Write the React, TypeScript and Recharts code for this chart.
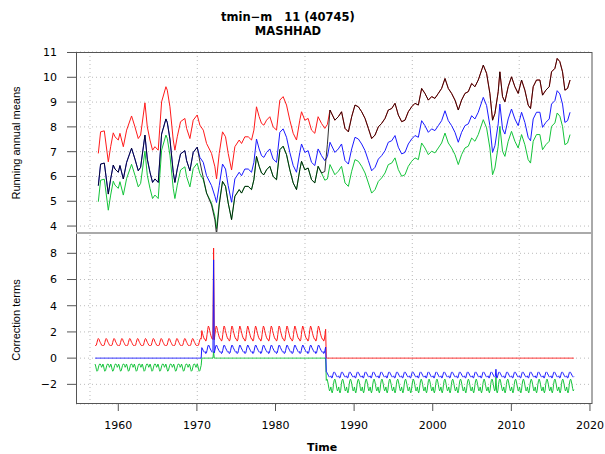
import React from 'react';
import { LineChart, Line, XAxis, YAxis, CartesianGrid, ReferenceLine } from 'recharts';

// ---------- Running annual means (upper panel) ----------
const meanYears = [
  1957.46, 1957.75, 1958.22, 1958.73, 1959.03, 1959.36, 1959.58, 1960.0, 1960.21, 1960.64,
  1961.06, 1961.69, 1962.12, 1962.54, 1962.84, 1963.39, 1963.69, 1964.03, 1964.36, 1964.66,
  1965.08, 1965.51, 1966.06, 1966.23, 1966.57, 1966.99, 1967.2, 1967.5, 1967.92, 1968.47,
  1968.69, 1969.11, 1969.53, 1970.04, 1970.38, 1970.81,
  1971.23, 1971.86, 1972.29, 1972.5,
  1972.84, 1973.26, 1973.64, 1973.98, 1974.41, 1974.83, 1975.38, 1975.68, 1976.1, 1976.53,
  1976.95, 1977.25, 1977.58, 1977.92, 1978.22, 1978.52, 1978.86, 1979.28, 1979.7, 1980.13,
  1980.55, 1980.97, 1981.4, 1981.82, 1982.25, 1982.67, 1983.09, 1983.31, 1983.73, 1984.15,
  1984.58, 1985.0, 1985.42, 1985.85, 1986.27, 1986.6,
  1986.93, 1987.55, 1987.99, 1988.4,
  1988.84, 1989.27, 1989.69, 1990.11, 1990.54, 1990.96, 1991.39, 1991.81, 1992.23, 1992.66,
  1993.08, 1993.5, 1993.93, 1994.35, 1994.78, 1995.2, 1995.62, 1996.05, 1996.47, 1996.89,
  1997.32, 1997.74, 1998.17, 1998.59, 1999.01, 1999.44, 1999.86, 2000.28, 2000.71, 2001.13,
  2001.56, 2001.98, 2002.4, 2002.83, 2003.25, 2003.67, 2004.1, 2004.52, 2004.95, 2005.37,
  2005.79, 2006.43, 2006.85, 2007.27, 2007.61, 2007.91, 2008.33, 2008.54, 2008.88, 2009.18,
  2009.6, 2010.02, 2010.45, 2010.87, 2011.3, 2011.72, 2012.14, 2012.44, 2012.78, 2013.2,
  2013.63, 2013.97, 2014.39, 2014.82, 2015.11, 2015.54, 2015.83, 2016.17, 2016.51, 2016.81,
  2017.15, 2017.47,
];

const redMeans = [
  6.93, 7.8, 7.84, 6.59, 7.2, 7.76, 7.6, 7.47, 7.74, 7.2,
  7.87, 8.44, 8.0, 7.53, 7.67, 8.97, 8.0, 7.47, 7.06, 7.2,
  7.06, 9.01, 9.62, 9.48, 8.81, 7.47, 7.06, 7.6, 8.21, 8.34,
  7.94, 7.53, 8.27, 8.48, 8.07, 7.87,
  7.33, 6.93, 6.39, 5.9,
  6.93, 7.8, 7.6, 6.93, 6.26, 7.2, 7.47, 7.33, 7.6, 7.6,
  7.47, 7.87, 8.81, 8.41, 8.14, 8.07, 8.27, 8.41, 8.0, 7.87,
  9.08, 9.22, 8.88, 8.27, 7.74, 7.47, 8.27, 8.61, 8.27, 8.34,
  7.87, 7.74, 8.41, 8.14, 7.94, 8.1,
  8.68, 8.27, 8.41, 8.61,
  7.94, 7.8, 8.41, 8.88, 8.81, 8.61, 8.34, 7.94, 7.53, 7.67,
  8.0, 8.14, 8.34, 8.68, 8.74, 8.95, 8.48, 8.21, 8.27, 8.61,
  8.81, 8.95, 8.88, 9.55, 9.35, 9.08, 9.22, 9.15, 9.35, 9.55,
  9.95, 9.55, 9.35, 9.08, 8.68, 9.08, 9.35, 9.42, 9.75, 9.62,
  9.89, 10.49, 10.16, 9.35, 8.27, 8.54, 9.42, 10.22, 9.22, 9.01,
  9.62, 10.02, 9.62, 9.35, 9.89, 9.48, 8.88, 8.74, 9.62, 9.89,
  9.89, 9.28, 9.48, 9.62, 10.22, 10.36, 10.76, 10.63, 10.22, 9.48,
  9.55, 9.89,
];

const blueMeans = [
  5.63, 6.5, 6.54, 5.29, 5.9, 6.46, 6.3, 6.17, 6.44, 5.9,
  6.57, 7.14, 6.7, 6.23, 6.37, 7.67, 6.7, 6.17, 5.76, 5.9,
  5.76, 7.71, 8.32, 8.18, 7.51, 6.17, 5.76, 6.3, 6.91, 7.04,
  6.64, 6.23, 6.97, 7.18, 6.77, 6.57,
  6.03, 5.63, 5.2, 4.95,
  5.63, 6.5, 6.3, 5.63, 4.96, 5.9, 6.17, 6.03, 6.3, 6.3,
  6.17, 6.57, 7.51, 7.11, 6.84, 6.77, 6.97, 7.11, 6.7, 6.57,
  7.78, 7.92, 7.58, 6.97, 6.44, 6.17, 6.97, 7.31, 6.97, 7.04,
  6.57, 6.44, 7.11, 6.84, 6.64, 6.8,
  7.38, 6.97, 7.11, 7.31,
  6.64, 6.5, 7.11, 7.58, 7.51, 7.31, 7.04, 6.64, 6.23, 6.37,
  6.7, 6.84, 7.04, 7.38, 7.44, 7.65, 7.18, 6.91, 6.97, 7.31,
  7.51, 7.65, 7.58, 8.25, 8.05, 7.78, 7.92, 7.85, 8.05, 8.25,
  8.65, 8.25, 8.05, 7.78, 7.38, 7.78, 8.05, 8.12, 8.45, 8.32,
  8.59, 9.19, 8.86, 8.05, 6.97, 7.24, 8.12, 8.92, 7.92, 7.71,
  8.32, 8.72, 8.32, 8.05, 8.59, 8.18, 7.58, 7.44, 8.32, 8.59,
  8.59, 7.98, 8.18, 8.32, 8.92, 9.06, 9.46, 9.33, 8.92, 8.18,
  8.25, 8.59,
];

const greenMeans = [
  4.98, 5.85, 5.89, 4.64, 5.25, 5.81, 5.65, 5.52, 5.79, 5.25,
  5.92, 6.49, 6.05, 5.58, 5.72, 7.02, 6.05, 5.52, 5.11, 5.25,
  5.11, 7.06, 7.67, 7.53, 6.86, 5.52, 5.11, 5.65, 6.26, 6.39,
  5.99, 5.58, 6.32, 6.53, 6.12, 5.87,
  5.33, 4.93, 4.39, 3.9,
  4.93, 5.8, 5.6, 4.93, 4.26, 5.2, 5.47, 5.33, 5.6, 5.6,
  5.47, 5.87, 6.81, 6.41, 6.14, 6.07, 6.27, 6.41, 6.0, 5.87,
  7.08, 7.22, 6.88, 6.27, 5.74, 5.47, 6.27, 6.61, 6.27, 6.34,
  5.87, 5.74, 6.41, 6.14, 5.85, 5.9,
  6.48, 6.07, 6.21, 6.41,
  5.74, 5.6, 6.21, 6.68, 6.61, 6.41, 6.14, 5.74, 5.33, 5.47,
  5.8, 5.94, 6.14, 6.48, 6.54, 6.75, 6.28, 6.01, 6.07, 6.41,
  6.61, 6.75, 6.68, 7.35, 7.15, 6.88, 7.02, 6.95, 7.15, 7.35,
  7.75, 7.35, 7.15, 6.88, 6.48, 6.88, 7.15, 7.22, 7.55, 7.42,
  7.69, 8.29, 7.96, 7.15, 6.07, 6.34, 7.22, 8.02, 7.02, 6.81,
  7.42, 7.82, 7.42, 7.15, 7.69, 7.28, 6.68, 6.54, 7.42, 7.69,
  7.69, 7.08, 7.28, 7.42, 8.02, 8.16, 8.56, 8.43, 8.02, 7.28,
  7.35, 7.69,
];

const rawMeans = [
  5.63, 6.5, 6.54, 5.29, 5.9, 6.46, 6.3, 6.17, 6.44, 5.9,
  6.57, 7.14, 6.7, 6.23, 6.37, 7.67, 6.7, 6.17, 5.76, 5.9,
  5.76, 7.71, 8.32, 8.18, 7.51, 6.17, 5.76, 6.3, 6.91, 7.04,
  6.64, 6.23, 6.97, 7.18, 6.6, 5.95,
  5.33, 4.85, 4.25, 3.65,
  4.85, 5.8, 5.6, 4.93, 4.26, 5.2, 5.47, 5.33, 5.6, 5.6,
  5.47, 5.87, 6.81, 6.41, 6.14, 6.07, 6.27, 6.41, 6.0, 5.87,
  7.08, 7.22, 6.88, 6.27, 5.74, 5.47, 6.27, 6.61, 6.27, 6.34,
  5.87, 5.74, 6.41, 6.14, 6.2, 7.3,
  8.68, 8.27, 8.41, 8.61,
  7.94, 7.8, 8.41, 8.88, 8.81, 8.61, 8.34, 7.94, 7.53, 7.67,
  8.0, 8.14, 8.34, 8.68, 8.74, 8.95, 8.48, 8.21, 8.27, 8.61,
  8.81, 8.95, 8.88, 9.55, 9.35, 9.08, 9.22, 9.15, 9.35, 9.55,
  9.95, 9.55, 9.35, 9.08, 8.68, 9.08, 9.35, 9.42, 9.75, 9.62,
  9.89, 10.49, 10.16, 9.35, 8.27, 8.54, 9.42, 10.22, 9.22, 9.01,
  9.62, 10.02, 9.62, 9.35, 9.89, 9.48, 8.88, 8.74, 9.62, 9.89,
  9.89, 9.28, 9.48, 9.62, 10.22, 10.36, 10.76, 10.63, 10.22, 9.48,
  9.55, 9.89,
];

// ---------- Correction terms (lower panel): monthly profiles per homogeneous segment ----------
const corrFirstYear = 1957;
const corrLastYear = 2017;
const segmentBreaks = [1970.6, 1986.42];
const redCorrProfiles = [
  [1.0, 0.95, 1.0, 1.2, 1.4, 1.5, 1.45, 1.3, 1.2, 1.1, 1.0, 0.95],
  [1.45, 1.3, 1.4, 1.8, 2.2, 2.45, 2.35, 2.1, 1.9, 1.7, 1.55, 1.45],
  [0, 0, 0, 0, 0, 0, 0, 0, 0, 0, 0, 0],
];
const blueCorrProfiles = [
  [0, 0, 0, 0, 0, 0, 0, 0, 0, 0, 0, 0],
  [0.5, 0.35, 0.4, 0.6, 0.85, 1.0, 0.95, 0.8, 0.7, 0.6, 0.5, 0.45],
  [-1.35, -1.5, -1.5, -1.3, -1.1, -1.05, -1.1, -1.2, -1.3, -1.4, -1.45, -1.4],
];
const greenCorrProfiles = [
  [-0.45, -0.6, -0.85, -1.0, -0.95, -0.75, -0.55, -0.45, -0.45, -0.55, -0.7, -0.6],
  [0, 0, 0, 0, 0, 0, 0, 0, 0, 0, 0, 0],
  [-2.2, -2.5, -2.65, -2.45, -2.0, -1.7, -1.6, -1.75, -2.0, -2.3, -2.5, -2.4],
];
const outlierYears = [1972, 2008];
const outlierMonths = [1, 0];
const outlierRed = [8.4, 0];
const outlierBlue = [7.5, -0.85];
const outlierGreen = [0.5, -1.45];

// ---------- Axes ----------
const xDomain = [1954.62, 2020.26];
const xTicks = [1960, 1970, 1980, 1990, 2000, 2010, 2020];
const gridYears = [1956.4, 1970.05, 1983.75, 1997.4, 2011.0];
const meanDomain = [3.72, 11.02];
const meanTicks = [4, 5, 6, 7, 8, 9, 10, 11];
const corrDomain = [-3.5, 9.55];
const corrTicks = [-2, 0, 2, 4, 6, 8];

const RED = '#ff1a1a';
const BLUE = '#1a1aff';
const GREEN = '#14c43a';
const FONT = "'DejaVu Sans', sans-serif";

const fmt = (v: number) => (v < 0 ? `\u2212${Math.abs(v)}` : `${v}`);

function buildCorrData() {
  const rows: { t: number; red: number; blue: number; green: number }[] = [];
  for (let y = corrFirstYear; y <= corrLastYear; y++) {
    for (let m = 0; m < 12; m++) {
      const t = y + (m + 0.5) / 12;
      const seg = t < segmentBreaks[0] ? 0 : t < segmentBreaks[1] ? 1 : 2;
      let red = redCorrProfiles[seg][m];
      let blue = blueCorrProfiles[seg][m];
      let green = greenCorrProfiles[seg][m];
      for (let k = 0; k < outlierYears.length; k++) {
        if (outlierYears[k] === y && outlierMonths[k] === m) {
          red = outlierRed[k] || red;
          blue = outlierBlue[k];
          green = outlierGreen[k];
        }
      }
      rows.push({ t, red, blue, green });
    }
  }
  return rows;
}

export default function App() {
  const meansData = meanYears.map((t, i) => ({
    t,
    red: redMeans[i],
    blue: blueMeans[i],
    green: greenMeans[i],
    raw: rawMeans[i],
  }));
  const corrData = buildCorrData();
  const tickStyle = { fill: '#000', fontSize: 11, fontFamily: FONT };

  return (
    <div style={{ position: 'absolute', left: 0, top: 0, width: 605, height: 454, background: '#fff', overflow: 'hidden' }}>
      <div style={{ position: 'absolute', left: 0, top: 0 }}>
        <LineChart width={605} height={233} data={meansData} margin={{ top: 52, right: 13, bottom: 0, left: 0 }}>
          <XAxis type="number" dataKey="t" domain={xDomain} hide allowDataOverflow />
          <YAxis
            type="number"
            domain={meanDomain}
            ticks={meanTicks}
            interval={0}
            width={76}
            tickSize={9}
            tickMargin={10}
            axisLine={false}
            tickLine={{ stroke: '#555' }}
            tick={tickStyle}
            allowDataOverflow
          />
          <CartesianGrid vertical={false} stroke="#bbb" strokeDasharray="1 3" />
          {gridYears.map((g) => (
            <ReferenceLine key={g} x={g} stroke="#bbb" strokeDasharray="1 3" />
          ))}
          <Line type="linear" dataKey="red" stroke={RED} strokeWidth={1} dot={false} isAnimationActive={false} />
          <Line type="linear" dataKey="blue" stroke={BLUE} strokeWidth={1} dot={false} isAnimationActive={false} />
          <Line type="linear" dataKey="green" stroke={GREEN} strokeWidth={1} dot={false} isAnimationActive={false} />
          <Line type="linear" dataKey="raw" stroke="#000" strokeOpacity={0.8} strokeWidth={1} dot={false} isAnimationActive={false} />
        </LineChart>
      </div>
      <div style={{ position: 'absolute', left: 0, top: 233 }}>
        <LineChart width={605} height={221} data={corrData} margin={{ top: 0, right: 13, bottom: 20, left: 0 }}>
          <XAxis
            type="number"
            dataKey="t"
            domain={xDomain}
            ticks={xTicks}
            interval={0}
            height={30}
            tickSize={7}
            tickMargin={10}
            axisLine={false}
            tickLine={{ stroke: '#555' }}
            tick={tickStyle}
            allowDataOverflow
          />
          <YAxis
            type="number"
            domain={corrDomain}
            ticks={corrTicks}
            interval={0}
            width={76}
            tickSize={9}
            tickMargin={10}
            axisLine={false}
            tickLine={{ stroke: '#555' }}
            tick={tickStyle}
            tickFormatter={fmt}
            allowDataOverflow
          />
          <CartesianGrid vertical={false} stroke="#bbb" strokeDasharray="1 3" />
          {gridYears.map((g) => (
            <ReferenceLine key={g} x={g} stroke="#bbb" strokeDasharray="1 3" />
          ))}
          <Line type="linear" dataKey="red" stroke={RED} strokeWidth={1} dot={false} isAnimationActive={false} />
          <Line type="linear" dataKey="green" stroke={GREEN} strokeWidth={1} dot={false} isAnimationActive={false} />
          <Line type="linear" dataKey="blue" stroke={BLUE} strokeWidth={1} dot={false} isAnimationActive={false} />
        </LineChart>
      </div>
      <svg width={605} height={454} style={{ position: 'absolute', left: 0, top: 0, pointerEvents: 'none' }}>
        <rect x={76.5} y={52.5} width={515.5} height={351} fill="none" stroke="#555" strokeWidth={1} />
        <line x1={76} x2={592} y1={233} y2={233} stroke="#aaa" strokeWidth={2} />
        <text x={288} y={21} textAnchor="middle" fontFamily={FONT} fontWeight="bold" fontSize={11.5} style={{ whiteSpace: 'pre' }}>
          {'tmin\u2212m   11 (40745)'}
        </text>
        <text x={288} y={34.5} textAnchor="middle" fontFamily={FONT} fontWeight="bold" fontSize={11.5}>
          MASHHAD
        </text>
        <text x={322} y={450.5} textAnchor="middle" fontFamily={FONT} fontWeight="bold" fontSize={11}>
          Time
        </text>
        <text x={20} y={143} textAnchor="middle" fontFamily="'Liberation Sans', Arial, sans-serif" fontSize={11} transform="rotate(-90 20 143)">
          Running annual means
        </text>
        <text x={20} y={320} textAnchor="middle" fontFamily="'Liberation Sans', Arial, sans-serif" fontSize={11} transform="rotate(-90 20 320)">
          Correction terms
        </text>
      </svg>
    </div>
  );
}
